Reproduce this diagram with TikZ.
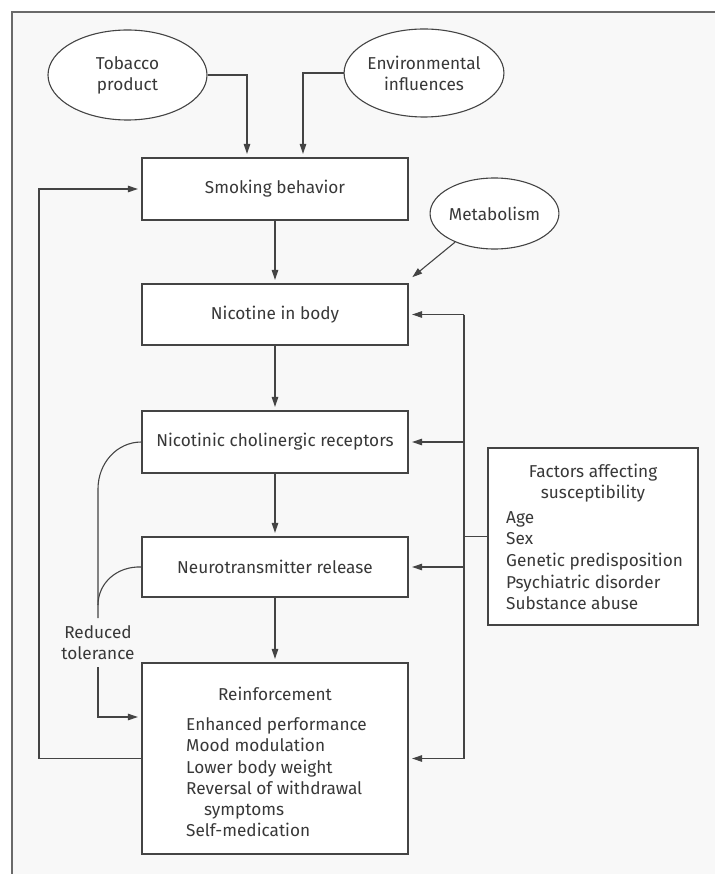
\documentclass[tikz,border=0pt]{standalone}
\usepackage{fontspec}
\setmainfont{Fira Sans}
\usetikzlibrary{shapes.geometric,arrows.meta,calc}
\definecolor{bgc}{HTML}{F8F8F8}
\definecolor{lnc}{HTML}{444444}
\definecolor{txc}{HTML}{383838}
\definecolor{frc}{HTML}{6A6A6A}
\newcommand\myfs{\fontsize{17.2}{21}\selectfont}
\begin{document}
\begin{tikzpicture}[x=1pt,y=-1pt,
  box/.style={draw=lnc, line width=1.2pt, fill=white, minimum width=266pt, inner sep=0pt, text=txc, font=\myfs},
  ell/.style={ellipse, draw=lnc, line width=1.1pt, fill=white, inner sep=0pt, align=center, text=txc, font=\myfs},
  arr/.style={draw=lnc, line width=1.1pt, shorten >=3.5pt, -{Triangle[length=10pt,width=6.5pt]}},
  conn/.style={draw=lnc, line width=1.1pt},
  lbl/.style={text=txc, font=\myfs, inner sep=0pt, anchor=base},
  lbll/.style={text=txc, font=\myfs, inner sep=0pt, anchor=base west}
]
\useasboundingbox (0,0) rectangle (715,874);
\fill[white] (0,0) rectangle (715,874);
\fill[bgc] (12,12) rectangle (715,874);
\draw[frc, line width=1.5pt] (12,874) -- (12,12) -- (715,12);

% boxes
\node[box, minimum height=62pt] (smoke) at (275,189) {Smoking behavior};
\node[box, minimum height=61pt] (nic) at (275,314.5) {Nicotine in body};
\node[box, minimum height=62pt] (rec) at (275,442) {Nicotinic cholinergic receptors};
\node[box, minimum height=60pt] (neuro) at (275,567) {Neurotransmitter release};
\node[box, minimum height=191pt] (reinf) at (275,758.5) {};
\node[box, minimum width=210pt, minimum height=177pt] (fac) at (593,536.5) {};

% ellipses
\node[ell, minimum width=159pt, minimum height=90pt] (tob) at (127.5,75) {Tobacco\\product};
\node[ell, minimum width=158pt, minimum height=88pt] (env) at (424,73) {Environmental\\influences};
\node[ell, minimum width=127pt, minimum height=71pt] (met) at (494.5,213.5) {Metabolism};

% reinforcement text
\node[lbl] (rtitle) at (275,700) {Reinforcement};
\node[lbll] (r1) at (186,730) {Enhanced performance};
\node[lbll] (r2) at (186,751) {Mood modulation};
\node[lbll] (r3) at (186,773) {Lower body weight};
\node[lbll] (r4) at (186,794) {Reversal of withdrawal};
\node[lbll] (r5) at (204,815) {symptoms};
\node[lbll] (r6) at (186,836) {Self-medication};

% factors text
\node[lbl] (ft1) at (593,477) {Factors affecting};
\node[lbl] (ft2) at (593,498) {susceptibility};
\node[lbll] (f1) at (506,523) {Age};
\node[lbll] (f2) at (506,544) {Sex};
\node[lbll] (f3) at (506,566) {Genetic predisposition};
\node[lbll] (f4) at (506,588) {Psychiatric disorder};
\node[lbll] (f5) at (506,609) {Substance abuse};

% reduced tolerance label
\node[lbl] (rt1) at (98,638) {Reduced};
\node[lbl] (rt2) at (98,659) {tolerance};

% helper coordinates
\coordinate (bus) at (464,0);
\coordinate (fb) at (39,0);
\coordinate (tolB) at (98,618);
\coordinate (tolA) at (98,667);

% main chain
\draw[arr] (tob.east) -| ([xshift=-28pt]smoke.north);
\draw[arr] (env.west) -| ([xshift=28pt]smoke.north);
\draw[arr] (smoke) -- (nic);
\draw[arr] (met.216) -- ([xshift=1pt,yshift=4pt]nic.north east);
\draw[arr] (nic) -- (rec);
\draw[arr] (rec) -- (neuro);
\draw[arr] (neuro) -- (reinf);

% susceptibility bus
\draw[conn] (bus |- nic.east) -- (bus |- reinf.east);
\draw[conn] (fac.west) -- (bus |- fac.west);
\draw[arr] (bus |- nic.east) -- (nic.east);
\draw[arr] (bus |- rec.east) -- (rec.east);
\draw[arr] (bus |- neuro.east) -- (neuro.east);
\draw[arr] (bus |- reinf.east) -- (reinf.east);

% feedback loop
\draw[arr] (reinf.west) -- (reinf.west -| fb) |- (smoke.west);

% reduced tolerance
\draw[conn] (rec.west) .. controls (117,442) and (98,463) .. (98,489) -- (tolB);
\draw[conn] (neuro.west) .. controls (117,566) and (98,583) .. (98,605);
\draw[arr] (tolA) |- ([yshift=41.5pt]reinf.west);
\end{tikzpicture}
\end{document}
